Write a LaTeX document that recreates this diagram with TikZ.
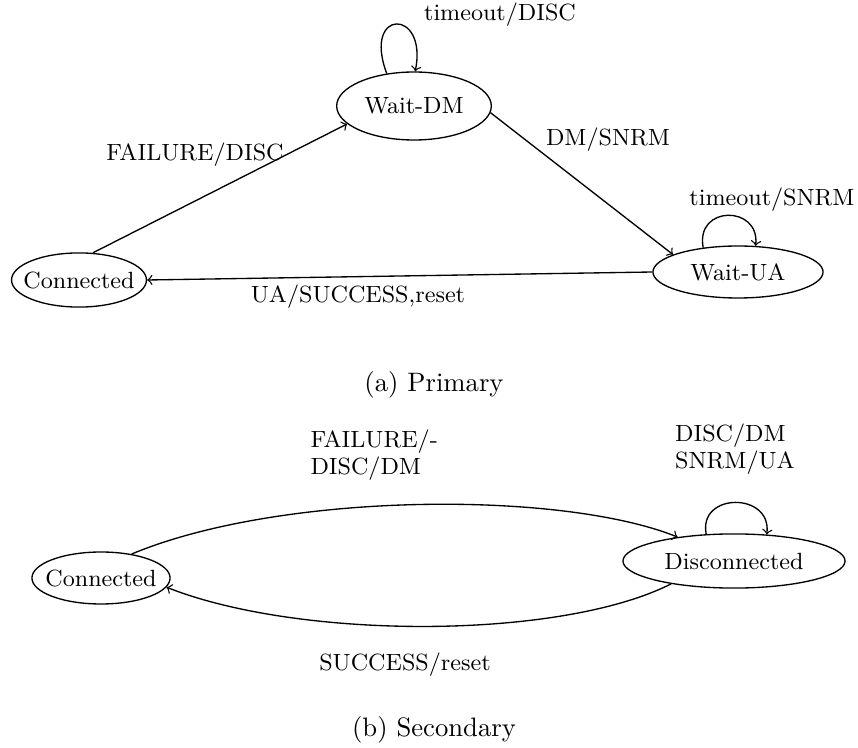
\documentclass[tikz,border=0pt]{standalone}
\usetikzlibrary{shapes.geometric}
\begin{document}
\begin{tikzpicture}[x=0.375pt,y=-0.375pt,
  every node/.style={font=\fontsize{8.8}{10}\selectfont},
  state/.style={draw,ellipse,inner xsep=-10pt,inner ysep=-3pt,line width=0.5pt},
  lbl/.style={inner sep=0pt},
  capt/.style={inner sep=0pt,font=\fontsize{10}{12}\selectfont},
  edge/.style={->,line width=0.5pt}]
\useasboundingbox (0,0) rectangle (858,748);
% (a) Primary
\node[state,minimum width=58pt,minimum height=25.5pt] (wdm) at (414,106) {Wait-DM};
\node[state,minimum width=50.6pt,minimum height=20.3pt] (c1) at (79,280) {Connected};
\node[state,minimum width=63.8pt,minimum height=19.5pt] (wua) at (738,272) {Wait-UA};
\draw[edge] (c1.63) -- (wdm.195);
\draw[edge] (wdm.-5) -- (wua.165);
\draw[edge] (wua.west) -- (c1.east);
\draw[edge] (wdm.130) .. controls (362,8) and (428,8) .. (wdm.88);
\draw[edge] (wua.145) .. controls (695,205) and (760,205) .. (wua.56);
\node[lbl] (l1) at (500,15) {timeout/DISC};
\node[lbl] (l2) at (195,155) {FAILURE/DISC};
\node[lbl] (l3) at (608,140) {DM/SNRM};
\node[lbl] (l4) at (772,200) {timeout/SNRM};
\node[lbl] (l5) at (358,297) {UA/SUCCESS,reset};
\node[capt] (ca) at (434,385) {(a) Primary};
% (b) Secondary
\node[state,minimum width=51.8pt,minimum height=19.5pt] (c2) at (101,578) {Connected};
\node[state,minimum width=83.3pt,minimum height=20.3pt] (dis) at (734,561) {Disconnected};
\draw[edge] (c2.38) .. controls (280,492) and (560,490) .. (dis.157);
\draw[edge] (dis.200) .. controls (560,640) and (300,640) .. (c2.-8);
\draw[edge] (dis.136) .. controls (698,492) and (772,492) .. (dis.39);
\node[lbl,anchor=west,align=left] (l6) at (310,455) {FAILURE/-\\DISC/DM};
\node[lbl,align=left] (l7) at (735,449) {DISC/DM\\SNRM/UA};
\node[lbl] (l8) at (405,665) {SUCCESS/reset};
\node[capt] (cb) at (434,730) {(b) Secondary};
\end{tikzpicture}
\end{document}
